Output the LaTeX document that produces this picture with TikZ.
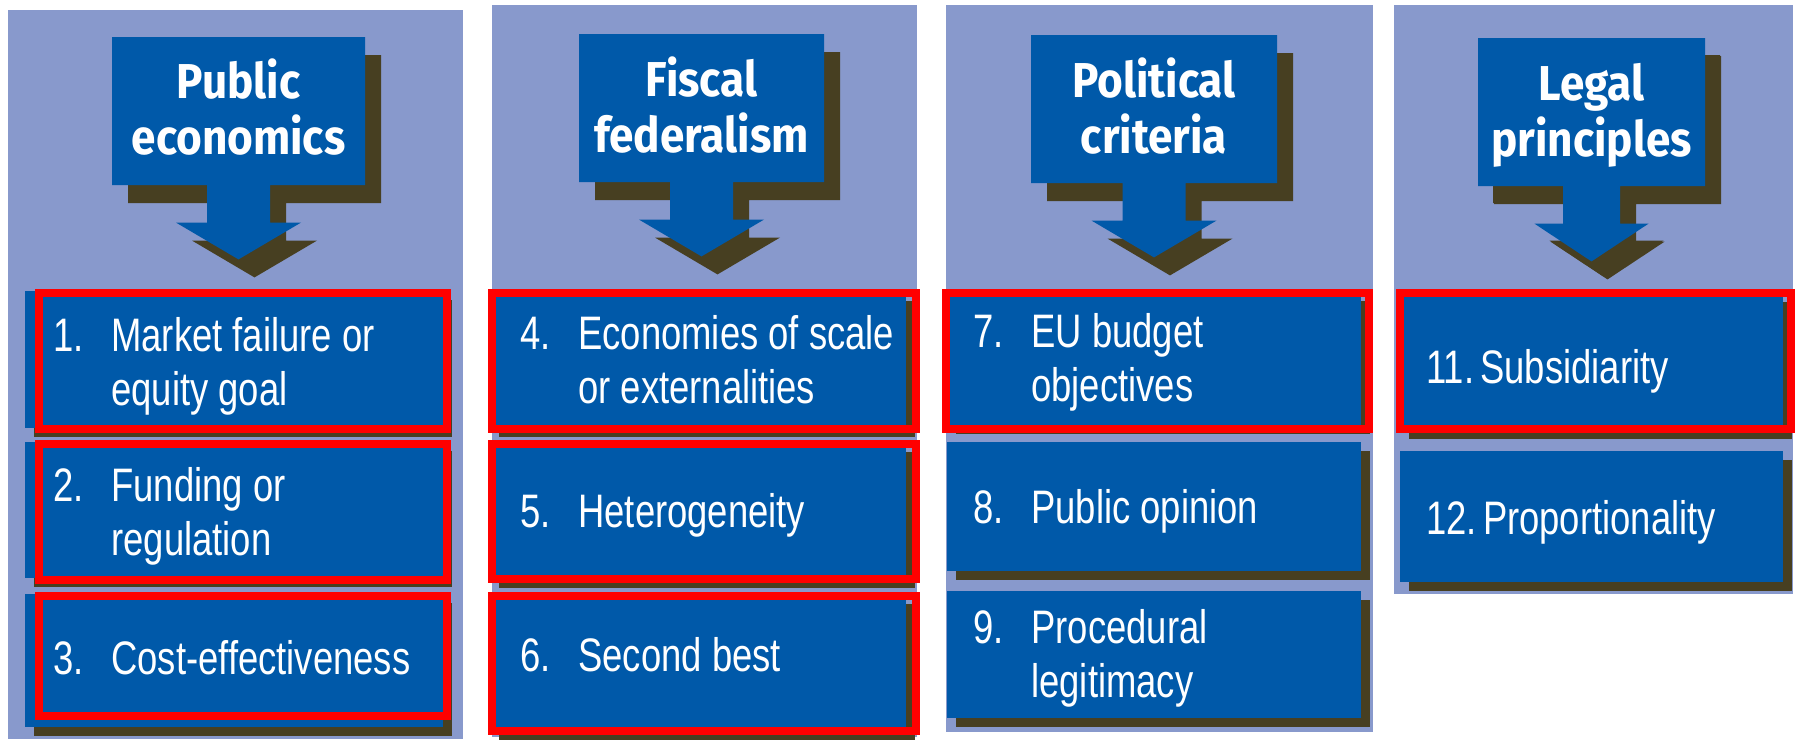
\documentclass[tikz,border=0pt]{standalone}
\usepackage{fontspec}
\setmainfont{Liberation Sans}[FakeStretch=0.775]
\newfontfamily\headfont{Fira Sans}[FakeStretch=0.9]
\usetikzlibrary{shapes.arrows,shadows}

\definecolor{panelbg}{RGB}{136,153,204}
\definecolor{boxblue}{RGB}{0,89,169}
\definecolor{shadowc}{RGB}{71,63,33}

\newcommand{\numitem}[2]{\makebox[29pt][l]{#1}\begin{tabular}[t]{@{}l@{}}#2\end{tabular}}

\tikzset{
  panel/.style={fill=panelbg},
  headbox/.style={arrow box, fill=boxblue, inner sep=0pt, minimum height=74pt,
    arrow box shaft width=31.5pt, arrow box head extend=15.5pt,
    arrow box tip angle=119, arrow box arrows={south:37pt},
    drop shadow={shadow xshift=8pt, shadow yshift=-9pt, opacity=1, fill=shadowc}},
  headtxt/.style={text=white, inner sep=0pt, anchor=base,
    font=\headfont\bfseries\fontsize{24.5}{27.5}\selectfont},
  itembox/.style={fill=boxblue, inner sep=0pt, anchor=north west,
    drop shadow={shadow xshift=4.5pt, shadow yshift=-4.5pt, opacity=1, fill=shadowc}},
  itemtxt/.style={text=white, inner sep=0pt, anchor=base west,
    font=\fontsize{23.5}{27}\selectfont},
  redframe/.style={draw=red, line width=4pt}
}

\begin{document}
\begin{tikzpicture}[x=0.5pt,y=-0.5pt]
\useasboundingbox (0,0) rectangle (1795,740);
% columns
\fill[panel] (8,10) rectangle (463,739);
\fill[panel] (492,5) rectangle (917,737);
\fill[panel] (946,5) rectangle (1373,732);
\fill[panel] (1394,5) rectangle (1793,594);

% headings with arrows
\node[headbox, minimum width=126.5pt] (pubhead) at (238.5,111) {};
\node[headbox, minimum width=122.5pt] (fischead) at (701.5,108) {};
\node[headbox, minimum width=123pt] (polhead) at (1154,109) {};
\node[headbox, minimum width=113.5pt, arrow box shaft width=28.5pt,
  arrow box head extend=14.25pt, arrow box tip angle=113,
  arrow box arrows={south:37.5pt},
  drop shadow={shadow xshift=7.5pt, shadow yshift=-8.5pt, opacity=1, fill=shadowc}] (leghead) at (1591.5,112) {};
\node[headtxt] (pubtxt) at (238.5,98) {\begin{tabular}[t]{@{}c@{}}Public\\economics\end{tabular}};
\node[headtxt] (fisctxt) at (701.5,96) {\begin{tabular}[t]{@{}c@{}}Fiscal\\federalism\end{tabular}};
\node[headtxt] (poltxt) at (1154,97) {\begin{tabular}[t]{@{}c@{}}Political\\criteria\end{tabular}};
\node[headtxt] (legtxt) at (1591.5,100) {\begin{tabular}[t]{@{}c@{}}Legal\\principles\end{tabular}};

% public economics
\node[itembox, minimum width=209pt, minimum height=68.5pt] (crit1) at (25,291) {};
\node[itembox, minimum width=209pt, minimum height=68pt] (crit2) at (25,442) {};
\node[itembox, minimum width=209pt, minimum height=66.5pt] (crit3) at (25,594) {};
% fiscal federalism
\node[itembox, minimum width=208pt, minimum height=68pt] (crit4) at (490,292) {};
\node[itembox, minimum width=208pt, minimum height=68pt] (crit5) at (490,443) {};
\node[itembox, minimum width=208pt, minimum height=68pt] (crit6) at (490,595) {};
% political criteria
\node[itembox, minimum width=207pt, minimum height=66.5pt] (crit7) at (947,292) {};
\node[itembox, minimum width=207pt, minimum height=64.5pt] (crit8) at (947,442) {};
\node[itembox, minimum width=207pt, minimum height=63.5pt] (crit9) at (947,591) {};
% legal principles
\node[itembox, minimum width=191.5pt, minimum height=68.5pt] (crit11) at (1400,293) {};
\node[itembox, minimum width=191.5pt, minimum height=65.5pt] (crit12) at (1400,451) {};

% highlighted criteria
\draw[redframe] (39,293) rectangle (447,429);
\draw[redframe] (39,444) rectangle (447,580);
\draw[redframe] (39,596) rectangle (447,716);
\draw[redframe] (492,293) rectangle (916,429);
\draw[redframe] (492,444) rectangle (916,579);
\draw[redframe] (492,596) rectangle (916,731);
\draw[redframe] (946,293) rectangle (1369,429);
\draw[redframe] (1400,293) rectangle (1791,429);

% criteria texts
\node[itemtxt] (crit1t) at (53,351) {\numitem{1.}{Market failure or\\equity goal}};
\node[itemtxt] (crit2t) at (53,501) {\numitem{2.}{Funding or\\regulation}};
\node[itemtxt] (crit3t) at (53,674) {\numitem{3.}{Cost-effectiveness}};
\node[itemtxt] (crit4t) at (520,349) {\numitem{4.}{Economies of scale\\or externalities}};
\node[itemtxt] (crit5t) at (520,527) {\numitem{5.}{Heterogeneity}};
\node[itemtxt] (crit6t) at (520,671) {\numitem{6.}{Second best}};
\node[itemtxt] (crit7t) at (973,347) {\numitem{7.}{EU budget\\objectives}};
\node[itemtxt] (crit8t) at (973,523) {\numitem{8.}{Public opinion}};
\node[itemtxt] (crit9t) at (973,643) {\numitem{9.}{Procedural\\legitimacy}};
\node[itemtxt] (crit11t) at (1426,383) {11.\hspace{3pt}Subsidiarity};
\node[itemtxt] (crit12t) at (1426,534) {12.\hspace{3pt}Proportionality};
\end{tikzpicture}
\end{document}
